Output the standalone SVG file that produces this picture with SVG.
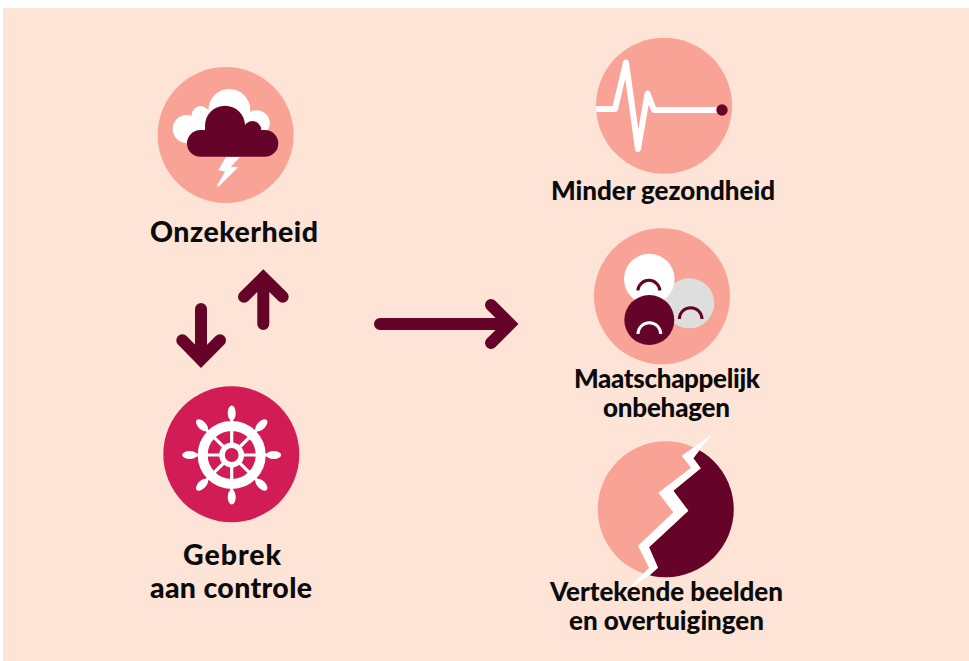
<svg xmlns="http://www.w3.org/2000/svg" width="969" height="661" viewBox="0 0 969 661">
<style>
.lbl{font-family:"Lato","Liberation Sans",sans-serif;font-weight:900;font-size:28.5px;fill:#0b0b0b;text-anchor:middle}
.sm{font-size:26px}
.salmon{fill:#f8a396}
.mar{fill:#650428}
.arrow{fill:none;stroke:#650428;stroke-width:12;stroke-linecap:round;stroke-linejoin:miter}
.spoke{stroke:#fff;stroke-width:3.2}
</style>
<defs>
<clipPath id="ecgc"><circle cx="664" cy="105.7" r="68"/></clipPath>
<clipPath id="brk"><polygon points="711,435 693.3,458.3 700.7,468.3 673.3,490.7 688.3,510.7 649,547.3 658,567.7 649,575.7 627,590 760,600 760,430"/></clipPath>
<g id="handle"><rect x="-1.5" y="-40" width="3" height="8" fill="#fff"/><ellipse cx="0" cy="-42" rx="4" ry="7.5" fill="#fff"/></g>
</defs>
<rect width="969" height="661" fill="#fff"/>
<rect x="3" y="8" width="966" height="653" fill="#fde4d6"/>
<g id="connectors">
<path class="arrow" d="M201 309V359M182.3 340.3L201 359.5L220 340.3"/>
<path class="arrow" d="M263.3 324V278M244 296.7L263.3 277.7L282.7 296.7"/>
<path class="arrow" d="M380 324H510M491 305L510 324L491 343"/>
</g>
<g id="onzekerheid">
<circle class="salmon" cx="225.6" cy="135" r="68"/>
<g fill="#fff"><circle cx="229.3" cy="110" r="21"/><circle cx="200.7" cy="115" r="9"/><circle cx="186.7" cy="129" r="14"/><circle cx="256.7" cy="123.3" r="13"/><rect x="190" y="118" width="70" height="25"/></g>
<g class="mar"><circle cx="225" cy="125.7" r="20"/><circle cx="252.3" cy="130" r="9"/><rect x="187" y="130" width="91.3" height="26.7" rx="13.3"/><rect x="205" y="125" width="50" height="20"/></g>
<polygon fill="#fff" points="226,157 240,157 230.7,166.7 238.3,167.3 218.3,186.7 216.7,186 225,171.7 218.3,170"/>
<text class="lbl" x="234" y="241.5" textLength="168" lengthAdjust="spacing">Onzekerheid</text>
</g>
<g id="gebrek">
<circle cx="231.3" cy="454.3" r="68" fill="#d11c56"/>
<g transform="translate(231.7 455)">
<circle r="29" fill="none" stroke="#fff" stroke-width="10"/>
<circle r="9.7" fill="none" stroke="#fff" stroke-width="5.6"/>
<g class="spoke"><path d="M0-25V-12M0 25V12M-25 0H-12M25 0H12M-17.7-17.7L-8.5-8.5M17.7-17.7L8.5-8.5M-17.7 17.7L-8.5 8.5M17.7 17.7L8.5 8.5"/></g>
<use href="#handle"/><use href="#handle" transform="rotate(45)"/><use href="#handle" transform="rotate(90)"/><use href="#handle" transform="rotate(135)"/><use href="#handle" transform="rotate(180)"/><use href="#handle" transform="rotate(225)"/><use href="#handle" transform="rotate(270)"/><use href="#handle" transform="rotate(315)"/>
</g>
<text class="lbl" x="232" y="565" textLength="98" lengthAdjust="spacing">Gebrek</text>
<text class="lbl" x="231" y="598" textLength="162" lengthAdjust="spacing">aan controle</text>
</g>
<g id="gezondheid">
<circle class="salmon" cx="664" cy="105.7" r="68"/>
<polyline clip-path="url(#ecgc)" points="590,109 615,109 626,62.5 638,149 647.5,93.5 654,110 720,110" fill="none" stroke="#fff" stroke-width="6" stroke-linejoin="round"/>
<circle class="mar" cx="722" cy="110" r="5.7"/>
<text class="lbl sm" x="663" y="200" textLength="224" lengthAdjust="spacing">Minder gezondheid</text>
</g>
<g id="maatschappelijk">
<circle class="salmon" cx="662" cy="296.3" r="68"/>
<circle cx="689.3" cy="303.3" r="25" fill="#dedede"/>
<circle cx="649.3" cy="279" r="25.3" fill="#fff"/>
<circle class="mar" cx="649.3" cy="320" r="25"/>
<g fill="none" stroke-width="3"><path stroke="#650428" d="M637.7 290.5A11.2 11.2 0 0 1 660 290.5"/><path stroke="#650428" d="M679.3 319A11.3 11.3 0 0 1 702 319"/><path stroke="#fff" d="M638 334A11.3 11.3 0 0 1 660.7 334"/></g>
<text class="lbl sm" x="667" y="388" textLength="186" lengthAdjust="spacing">Maatschappelijk</text>
<text class="lbl sm" x="666.5" y="417" textLength="127" lengthAdjust="spacing">onbehagen</text>
</g>
<g id="vertekende">
<circle class="salmon" cx="665.7" cy="509.3" r="68"/>
<circle class="mar" cx="665.7" cy="509.3" r="68" clip-path="url(#brk)"/>
<polygon fill="#fff" points="711,435 681.7,455.7 691,467.7 658.3,492.7 673.3,512.3 638,545.7 649,567.7 627,590 649,575.7 658,567.7 649,547.3 688.3,510.7 673.3,490.7 700.7,468.3 693.3,458.3"/>
<text class="lbl sm" x="666.5" y="601" textLength="233" lengthAdjust="spacing">Vertekende beelden</text>
<text class="lbl sm" x="666.5" y="630" textLength="195" lengthAdjust="spacing">en overtuigingen</text>
</g>
</svg>
